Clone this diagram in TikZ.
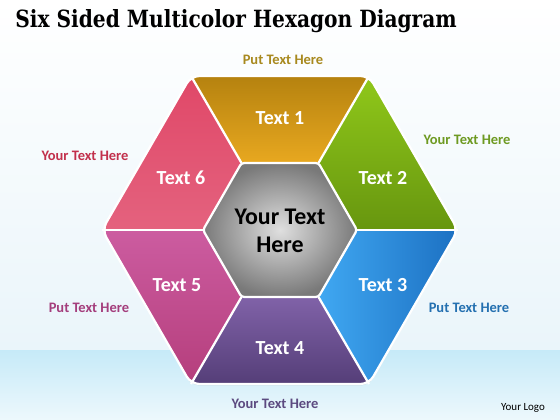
\documentclass[tikz,border=0pt]{standalone}
\usepackage{fontspec}
\setmainfont{Carlito}
\newfontfamily\titlefont{DejaVu Serif}
\usetikzlibrary{shadows}

\definecolor{bgtop}{HTML}{EAF5FA}
\definecolor{bgband}{HTML}{C6EAF8}
\definecolor{bgbottom}{HTML}{EDF8FC}
\definecolor{orTop}{HTML}{B5820F}
\definecolor{orBot}{HTML}{E8A820}
\definecolor{grTop}{HTML}{90C81A}
\definecolor{grBot}{HTML}{67960F}
\definecolor{blTop}{HTML}{40A8F2}
\definecolor{blBot}{HTML}{1C70C2}
\definecolor{puTop}{HTML}{8062A8}
\definecolor{puBot}{HTML}{553E78}
\definecolor{maTop}{HTML}{CC5CA0}
\definecolor{maBot}{HTML}{B53E7C}
\definecolor{reTop}{HTML}{E04868}
\definecolor{reBot}{HTML}{E4627E}
\definecolor{goldTxt}{HTML}{A8891E}
\definecolor{greenTxt}{HTML}{6E9A22}
\definecolor{blueTxt}{HTML}{2470B0}
\definecolor{purpleTxt}{HTML}{5C4A80}
\definecolor{magentaTxt}{HTML}{A43E7C}
\definecolor{redTxt}{HTML}{C2304C}

\begin{document}
\begin{tikzpicture}[x=0.025cm, y=-0.025cm,
    seglabel/.style={text=white, font=\bfseries\fontsize{14.2}{16}\selectfont},
    hublabel/.style={align=center, font=\bfseries\fontsize{17}{20}\selectfont},
    sidelabel/.style={font=\bfseries\fontsize{10.3}{12}\selectfont},
    gap/.style={draw=white, line width=1.6pt, line join=round}]
    \useasboundingbox (0,0) rectangle (560,420);

    % Background
    \shade[top color=white, bottom color=bgtop] (0,0) rectangle (560,350);
    \shade[top color=bgband, bottom color=bgbottom] (0,350) rectangle (560,420);

    % Corners
    \coordinate (oR) at (458,230);
    \coordinate (oTR) at (369,76);
    \coordinate (oTL) at (191,76);
    \coordinate (oL) at (102,230);
    \coordinate (oBL) at (191,384);
    \coordinate (oBR) at (369,384);
    \coordinate (iR) at (357,230);
    \coordinate (iTR) at (318.5,163);
    \coordinate (iTL) at (241.5,163);
    \coordinate (iL) at (203,230);
    \coordinate (iBL) at (241.5,297);
    \coordinate (iBR) at (318.5,297);

    % Frame
    \fill[white, rounded corners=6, drop shadow={opacity=0.25, shadow xshift=0pt, shadow yshift=-1pt}]
        (oR) -- (oTR) -- (oTL) -- (oL) -- (oBL) -- (oBR) -- cycle;

    % Segments
    \begin{scope}
        \clip[rounded corners=6] (oR) -- (oTR) -- (oTL) -- (oL) -- (oBL) -- (oBR) -- cycle;
        \shade[top color=orTop, bottom color=orBot] (oTL) -- (oTR) -- (iTR) -- (iTL) -- cycle;
        \shade[top color=grTop, bottom color=grBot] (oTR) -- (oR) -- (iR) -- (iTR) -- cycle;
        \shade[left color=blTop, right color=blBot] (oR) -- (oBR) -- (iBR) -- (iR) -- cycle;
        \shade[top color=puTop, bottom color=puBot] (oBR) -- (oBL) -- (iBL) -- (iBR) -- cycle;
        \shade[top color=maTop, bottom color=maBot] (oBL) -- (oL) -- (iL) -- (iBL) -- cycle;
        \shade[top color=reTop, bottom color=reBot] (oL) -- (oTL) -- (iTL) -- (iL) -- cycle;
    \end{scope}

    % Gaps
    \draw[gap] (oTL) -- (iTL);
    \draw[gap] (oTR) -- (iTR);
    \draw[gap] (oR) -- (iR);
    \draw[gap] (oBR) -- (iBR);
    \draw[gap] (oBL) -- (iBL);
    \draw[gap] (oL) -- (iL);
    \draw[gap, rounded corners=6] (oR) -- (oTR) -- (oTL) -- (oL) -- (oBL) -- (oBR) -- cycle;

    % Hub
    \shade[inner color=gray!25, outer color=gray!95!black, draw=white, line width=1.6pt, rounded corners=2]
        (iR) -- (iTR) -- (iTL) -- (iL) -- (iBL) -- (iBR) -- cycle;

    % Nodes
    \node[seglabel] (t1) at (280,118) {Text 1};
    \node[seglabel] (t2) at (383,178) {Text 2};
    \node[seglabel] (t3) at (383,285) {Text 3};
    \node[seglabel] (t4) at (280,348) {Text 4};
    \node[seglabel] (t5) at (177,285) {Text 5};
    \node[seglabel] (t6) at (181,178) {Text 6};
    \node[hublabel] (hub) at (280,231) {Your Text\\Here};

    \node[sidelabel, text=goldTxt] (l1) at (283,60) {Put Text Here};
    \node[sidelabel, text=greenTxt] (l2) at (467,140) {Your Text Here};
    \node[sidelabel, text=blueTxt] (l3) at (469,308) {Put Text Here};
    \node[sidelabel, text=purpleTxt] (l4) at (275,404) {Your Text Here};
    \node[sidelabel, text=magentaTxt] (l5) at (89,308) {Put Text Here};
    \node[sidelabel, text=redTxt] (l6) at (85,156) {Your Text Here};
    \node[font=\fontsize{7.8}{9}\selectfont] (logo) at (523,408) {Your Logo};

    % Title
    \node[anchor=base west, inner sep=0pt] (title) at (15,28)
        {\resizebox{314pt}{12.8pt}{\titlefont\bfseries Six Sided Multicolor Hexagon Diagram}};
\end{tikzpicture}
\end{document}
